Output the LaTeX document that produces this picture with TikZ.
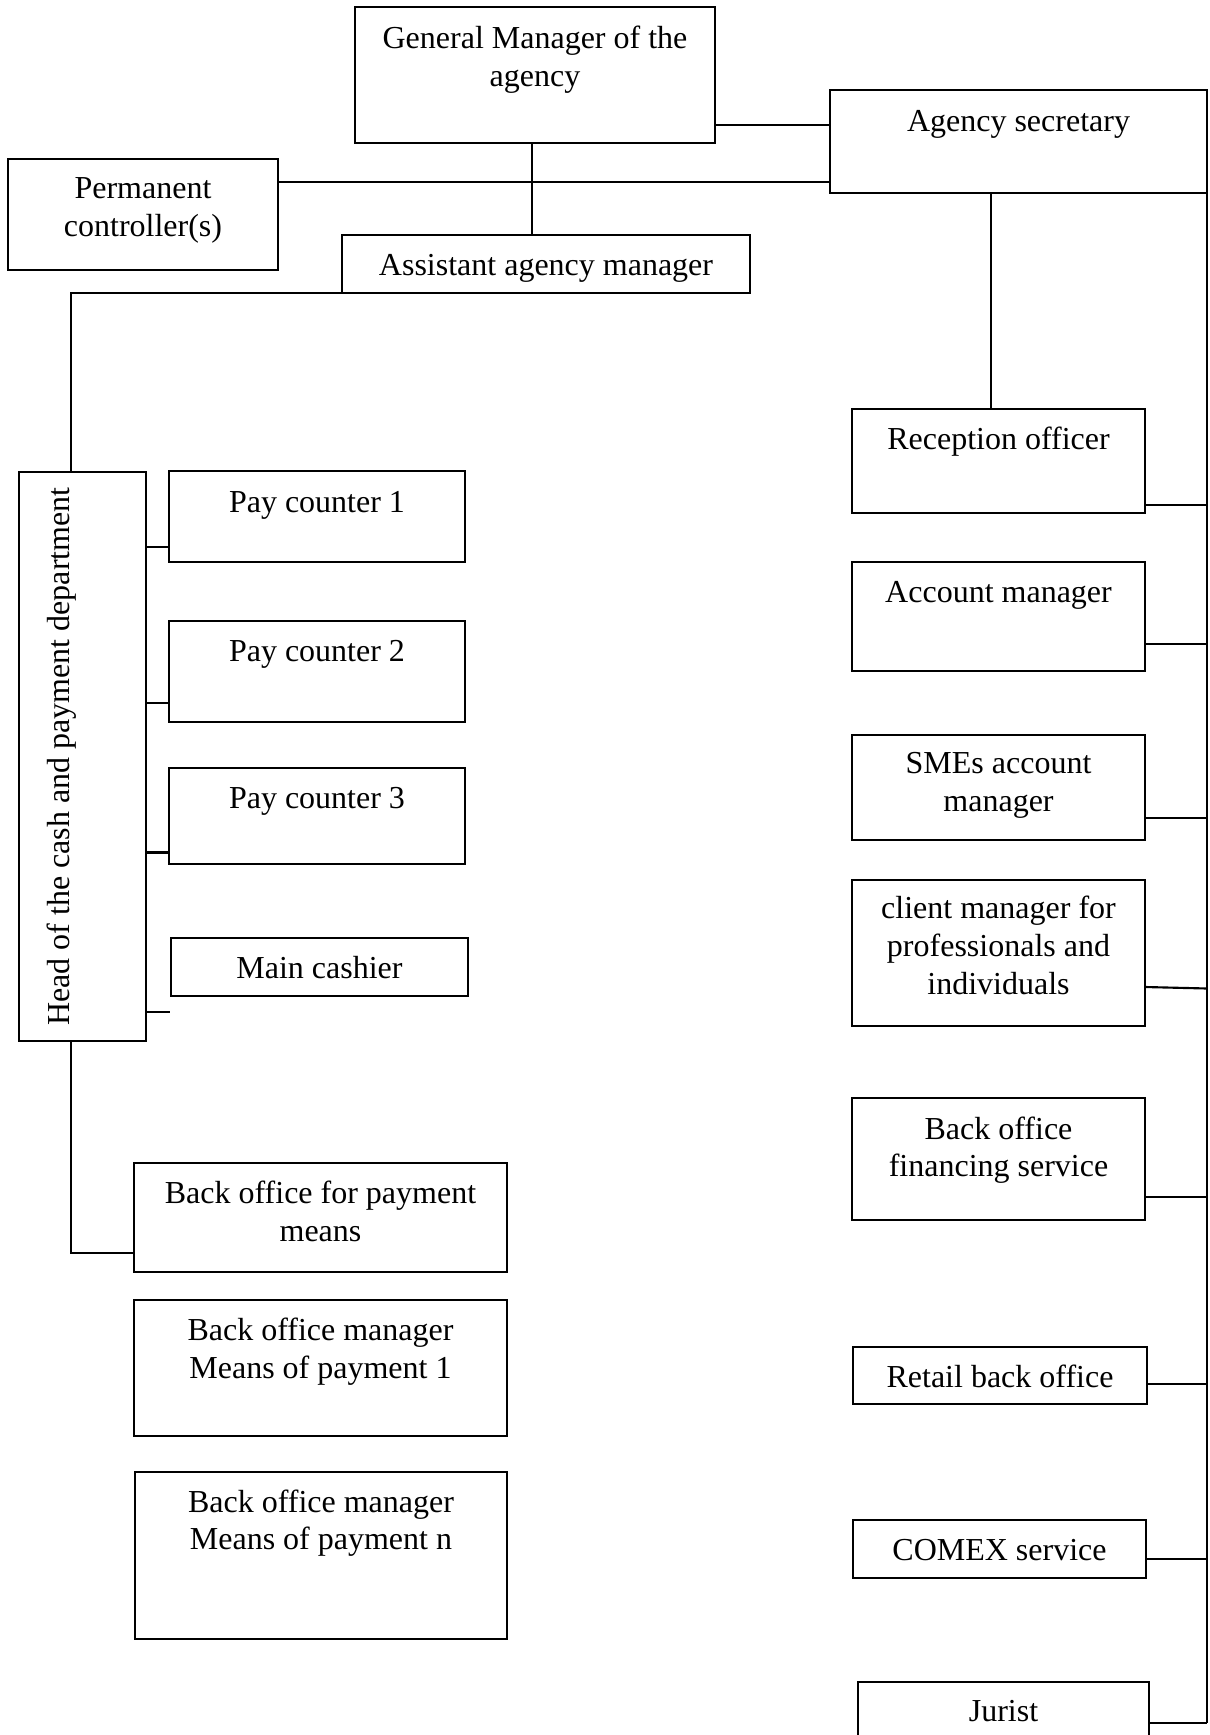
\documentclass[tikz,border=0pt]{standalone}
\usepackage{fontspec}
\setmainfont{Liberation Serif}
\newcommand\orgbox[8]{%
  \node[box,minimum width={(#4-#2)*0.375pt},minimum height={(#5-#3)*0.375pt}] (#1) at (#2,#3) {};
  \node[lbl] (#1-t) at (#6,#7-26.5) {\strut #8};}
\begin{document}
\begin{tikzpicture}[x=0.375pt,y=-0.375pt,
  box/.style={draw,line width=0.8pt,inner sep=0pt,outer sep=0pt,anchor=north west},
  lbl/.style={font=\fontsize{12}{14.2}\selectfont,align=center,inner sep=0pt,anchor=north},
  link/.style={line width=0.8pt}]
\useasboundingbox (0,0) rectangle (1209,1735);
\clip (0,0) rectangle (1209,1735);

% top
\orgbox{gm}{355}{7}{715}{143}{535}{48.3}{General Manager of the\\agency}
\orgbox{sec}{830}{90}{1207}{193}{1018.5}{131}{Agency secretary}
\orgbox{pc}{8}{159}{278}{270}{143}{198}{Permanent\\controller(s)}
\orgbox{asst}{342}{235}{750}{293}{546}{275}{Assistant agency manager}

% left
\node[box,minimum width={127*0.375pt},minimum height={569*0.375pt}] (head) at (19,472) {};
\node[font=\fontsize{12}{14.2}\selectfont,rotate=90,anchor=base,inner sep=0pt] (head-t) at (69,756.6) {Head of the cash and payment department};
\orgbox{p1}{169}{471}{465}{562}{317}{511.6}{Pay counter 1}
\orgbox{p2}{169}{621}{465}{722}{317}{661}{Pay counter 2}
\orgbox{p3}{169}{768}{465}{864}{317}{808}{Pay counter 3}
\orgbox{mc}{171}{938}{468}{996}{319.5}{977.7}{Main cashier}
\orgbox{bop}{134}{1163}{507}{1272}{320.5}{1202.6}{Back office for payment\\means}
\orgbox{bom1}{134}{1300}{507}{1436}{320.5}{1340.4}{Back office manager\\Means of payment 1}
\orgbox{bomn}{135}{1472}{507}{1639}{321}{1511.5}{Back office manager\\Means of payment n}

% right
\orgbox{rec}{852}{409}{1145}{513}{998.5}{449}{Reception officer}
\orgbox{acc}{852}{562}{1145}{671}{998.5}{602}{Account manager}
\orgbox{sme}{852}{735}{1145}{840}{998.5}{773}{SMEs account\\manager}
\orgbox{cli}{852}{880}{1145}{1026}{998.5}{918}{client manager for\\professionals and\\individuals}
\orgbox{bof}{852}{1098}{1145}{1220}{998.5}{1138.5}{Back office\\financing service}
\orgbox{ret}{853}{1347}{1147}{1404}{1000}{1387}{Retail back office}
\orgbox{com}{853}{1520}{1146}{1578}{999.5}{1560.4}{COMEX service}
\orgbox{jur}{858}{1682}{1149}{1760}{1003.5}{1721}{Jurist}

% connectors at the top
\draw[link] (gm.east |- 0,125.3) -- (sec.west |- 0,125.3);
\draw[link] (pc.east |- 0,181.7) -- (sec.west |- 0,181.7);
\draw[link] (gm.south -| 532,0) -- (asst.north -| 532,0);
\draw[link] (asst.south west) -- (asst.south west -| 71,0) -- (head.north -| 71,0);
\draw[link] (sec.south -| 991,0) -- (rec.north -| 991,0);

% left connectors
\draw[link] (head.east |- 0,547.2) -- (p1.west |- 0,547.2);
\draw[link] (head.east |- 0,703.3) -- (p2.west |- 0,703.3);
\draw[link] (head.east |- 0,852.5) -- (p3.west |- 0,852.5);
\coordinate (mcstub) at (170,1012);
\draw[link] (head.east |- mcstub) -- (mcstub);
\draw[link] (head.south -| 71,0) -- (71,1252.8) -- (bop.west |- 0,1252.8);

% right bus
\coordinate (busend) at (sec.north east |- 0,1723.3);
\draw[link] (sec.north east) -- (busend);
\draw[link] (rec.east |- 0,505.4) -- (sec.east |- 0,505.4);
\draw[link] (acc.east |- 0,643.8) -- (sec.east |- 0,643.8);
\draw[link] (sme.east |- 0,818.4) -- (sec.east |- 0,818.4);
\draw[link] (cli.east |- 0,987) -- (sec.east |- 0,988.5);
\draw[link] (bof.east |- 0,1197) -- (sec.east |- 0,1197);
\draw[link] (ret.east |- 0,1383.7) -- (sec.east |- 0,1383.7);
\draw[link] (com.east |- 0,1559) -- (sec.east |- 0,1559);
\draw[link] (jur.east |- busend) -- (busend);
\end{tikzpicture}
\end{document}
